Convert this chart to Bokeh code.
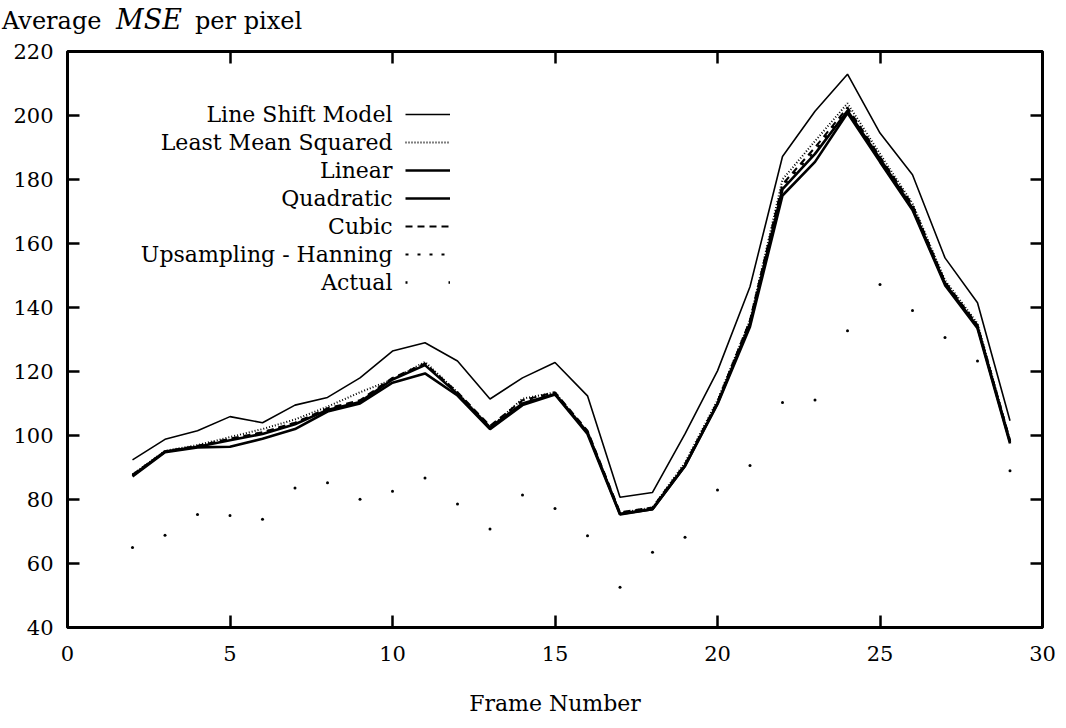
from bokeh.plotting import figure
from bokeh.layouts import column
from bokeh.models import (Range1d, FixedTicker, LinearAxis, Label, Legend, LegendItem,
                          CustomJSTickFormatter, Div)
from bokeh.core.properties import value
from bokeh.embed import file_html
from bokeh.resources import INLINE

# ---------------- data ----------------
frames = list(range(2, 30))

line_shift = [92.4, 98.8, 101.5, 105.9, 104.0, 109.5, 111.9, 118.0, 126.4, 129.0, 123.3, 111.4,
              118.0, 122.8, 112.4, 80.7, 82.2, 100.5, 120.2, 146.5, 187.2, 201.3, 212.9, 194.5,
              181.5, 155.5, 141.5, 104.6]
least_mean_sq = [87.8, 95.2, 97.0, 99.5, 102.0, 105.0, 109.0, 113.5, 117.5, 123.0, 113.5, 102.5,
                 111.5, 113.5, 101.0, 75.8, 77.5, 91.5, 111.0, 136.0, 180.0, 192.0, 203.8, 188.0,
                 172.5, 148.5, 135.0, 98.5]
linear = [87.2, 94.8, 96.3, 96.5, 99.0, 102.0, 107.5, 110.0, 116.5, 119.4, 112.5, 102.0,
          109.5, 112.8, 100.5, 75.3, 77.0, 90.5, 109.8, 134.0, 175.0, 185.5, 200.8, 185.5,
          170.5, 147.0, 133.5, 97.5]
quadratic = [87.5, 95.0, 96.5, 98.5, 100.5, 103.5, 108.0, 110.5, 117.5, 122.0, 113.0, 102.5,
             110.0, 113.0, 101.0, 75.5, 77.0, 90.5, 110.0, 135.0, 177.0, 188.0, 201.5, 186.5,
             171.0, 147.5, 134.0, 98.0]
cubic = [87.8, 95.0, 96.8, 99.0, 101.0, 104.0, 108.5, 111.0, 118.0, 122.5, 113.5, 103.0,
         111.0, 113.5, 101.5, 76.0, 77.5, 91.0, 110.5, 136.0, 178.5, 190.0, 202.5, 187.0,
         172.0, 148.0, 134.5, 98.5]
hanning = [87.5, 94.8, 96.5, 98.8, 101.0, 104.0, 108.2, 110.8, 117.8, 122.2, 113.2, 102.8,
           110.8, 113.2, 101.2, 75.8, 77.2, 91.0, 110.5, 135.5, 178.0, 189.0, 202.0, 186.8,
           171.5, 147.8, 134.3, 98.2]
actual = [65.0, 68.8, 75.3, 75.0, 73.8, 83.6, 85.2, 80.1, 82.6, 86.7, 78.6, 70.8, 81.4, 77.2,
          68.7, 52.6, 63.5, 68.2, 83.0, 90.6, 110.3, 111.1, 132.7, 147.2, 139.1, 130.6, 123.3, 89.0]

series_names = ["Line Shift Model", "Least Mean Squared", "Linear", "Quadratic", "Cubic",
                "Upsampling - Hanning", "Actual"]
x_ticks = [0, 5, 10, 15, 20, 25, 30]
y_ticks = [40, 60, 80, 100, 120, 140, 160, 180, 200, 220]

FONT = "DejaVu Serif"
TITLE_H = 40

# ---------------- caption above the plot: "Average MSE per pixel" ----------------
span = ('<span style="position:absolute;left:{x}px;top:{y}px;line-height:1;'
        'font-family:\'DejaVu Serif\';font-size:{fs}px;font-style:{st};color:black;'
        'white-space:nowrap">{t}</span>')
caption_html = ('<div style="position:relative;width:1066px;height:%dpx;margin:0;padding:0">'
                % TITLE_H
                + span.format(x=2, y=9, fs=24, st="normal", t="Average")
                + span.format(x=116, y=6, fs=27, st="italic", t="MSE")
                + span.format(x=195, y=9, fs=24, st="normal", t="per pixel")
                + '</div>')
caption = Div(text=caption_html, width=1066, height=TITLE_H, margin=0)

# ---------------- main figure ----------------
p = figure(width=1066, height=728 - TITLE_H, output_backend="svg", toolbar_location=None,
           x_range=Range1d(0, 30), y_range=Range1d(40, 220),
           min_border_left=67, min_border_right=24, min_border_top=51 - TITLE_H,
           min_border_bottom=101)
p.grid.visible = False
p.background_fill_color = "white"
p.border_fill_color = "white"
p.outline_line_color = "black"
p.outline_line_width = 3

for ax in (p.xaxis[0], p.yaxis[0]):
    ax.axis_line_color = None
    ax.major_tick_in = 12
    ax.major_tick_out = 0
    ax.minor_tick_line_color = None
    ax.major_tick_line_width = 2.5
    ax.major_label_text_font = FONT
    ax.major_label_text_font_size = "21px"
    ax.major_label_text_color = "black"

p.xaxis[0].ticker = FixedTicker(ticks=x_ticks)
p.yaxis[0].ticker = FixedTicker(ticks=y_ticks)
p.xaxis[0].major_label_standoff = 18
p.yaxis[0].major_label_standoff = 14
p.xaxis[0].axis_label = "Frame Number"
p.xaxis[0].axis_label_text_font = FONT
p.xaxis[0].axis_label_text_font_style = "normal"
p.xaxis[0].axis_label_text_font_size = "22px"
p.xaxis[0].axis_label_standoff = 27
p.xaxis[0].axis_label_text_color = "black"

blank = CustomJSTickFormatter(code="return ''")
top = LinearAxis(ticker=FixedTicker(ticks=x_ticks), formatter=blank, axis_line_color=None,
                 major_tick_in=12, major_tick_out=0, minor_tick_line_color=None,
                 major_tick_line_width=2.5, major_label_standoff=0,
                 major_label_text_font_size="1px")
right = LinearAxis(ticker=FixedTicker(ticks=y_ticks), formatter=blank, axis_line_color=None,
                   major_tick_in=12, major_tick_out=0, minor_tick_line_color=None,
                   major_tick_line_width=2.5, major_label_standoff=0,
                   major_label_text_font_size="1px")
p.add_layout(top, "above")
p.add_layout(right, "right")

# ---------------- series ----------------
r_shift = p.line(frames, line_shift, line_color="black", line_width=1.6)
r_lms = p.line(frames, least_mean_sq, line_color="black", line_width=2.0, line_dash="1 2")
r_lin = p.line(frames, linear, line_color="black", line_width=2.6)
r_quad = p.line(frames, quadratic, line_color="black", line_width=2.6)
r_cub = p.line(frames, cubic, line_color="black", line_width=2.0, line_dash="7 5")
r_han = p.line(frames, hanning, line_color="black", line_width=2.0, line_dash="3 9")
r_act = p.scatter(frames, actual, marker="circle", size=3, fill_color="black", line_color=None)
# legend-only key for "Actual" (draws nothing in the plot): a dot at each end of the sample
r_act_key = p.line(x=[frames[0]], y=[float("nan")], line_color="black", line_width=2.5,
                   line_dash="2 41")

renderers = [[r_shift], [r_lms], [r_lin], [r_quad], [r_cub], [r_han], [r_act_key]]

# legend samples (gnuplot style: text on the left, sample on the right)
legend = Legend(items=[LegendItem(label=value(""), renderers=r) for r in renderers],
                location=(338, 331), glyph_width=45, glyph_height=28, spacing=0,
                padding=0, margin=0, border_line_color=None, background_fill_alpha=0,
                label_width=0, label_standoff=0, label_height=28, label_text_font_size="1px")
p.add_layout(legend, "center")

row_top = 627 - 114
for i, name in enumerate(series_names):
    p.add_layout(Label(x=325, y=row_top - 28 * i, x_units="screen", y_units="screen",
                       text=name, text_align="right", text_baseline="middle",
                       text_font=FONT, text_font_size="22px", text_color="black"))

open("out.html", "w").write(file_html(column(caption, p, spacing=0), INLINE))
